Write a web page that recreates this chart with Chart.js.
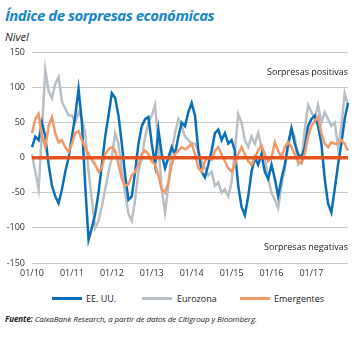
<!DOCTYPE html>
<html>
<head>
<meta charset="utf-8">
<script src="https://cdn.jsdelivr.net/npm/chart.js@4.4.0/dist/chart.umd.min.js"></script>
<style>
  body { margin: 0; background: #fff; font-family: "Open Sans", sans-serif; }
  #wrap { position: relative; width: 362px; height: 338px; overflow: hidden; }
  #titulo { position: absolute; left: 5px; top: 5px; font-size: 15px; font-weight: 700; font-style: italic; color: #1a86c8; letter-spacing: -0.5px; }
  #nivel { position: absolute; left: 5px; top: 29px; font-size: 11px; font-style: italic; color: #222; }
  #grafico { position: absolute; left: 0; top: 40px; }
  #leyenda { position: absolute; top: 292px; left: 0; width: 362px; font-size: 9px; color: #222; }
  #leyenda span { position: absolute; top: 0; }
  #leyenda i { position: absolute; top: 5px; height: 3px; width: 30px; }
  #fuente { position: absolute; left: 5px; top: 313px; font-size: 8px; font-style: italic; color: #222; letter-spacing: -0.1px; }
</style>
</head>
<body>
<div id="wrap">
  <div id="titulo">Índice de sorpresas económicas</div>
  <div id="nivel">Nivel</div>
  <canvas id="grafico" width="362" height="245"></canvas>
  <div id="leyenda">
    <i style="left:52px;background:#0a6fb8"></i><span style="left:86px">EE. UU.</span>
    <i style="left:142px;background:#b8bfc5"></i><span style="left:177px">Eurozona</span>
    <i style="left:240px;background:#f2996a"></i><span style="left:274px">Emergentes</span>
  </div>
  <div id="fuente"><b>Fuente:</b> CaixaBank Research, a partir de datos de Citigroup y Bloomberg.</div>
</div>
<script>
// meses de 01/10 a 12/17
const anios = ['10', '11', '12', '13', '14', '15', '16', '17'];
const meses = ['01', '02', '03', '04', '05', '06', '07', '08', '09', '10', '11', '12'];
const etiquetas = [];
anios.forEach(a => meses.forEach(m => etiquetas.push(m + '/' + a)));

const eeuu = [
  15, 30, 25, 50, 30, -10, -40, -55, -65, -45, -20, 0,
  30, 60, 98, 50, -40, -117, -100, -80, -50, -10, 30, 60,
  92, 85, 60, 20, -25, -60, -55, -20, 20, 45, 55, 58,
  20, -10, 40, 5, -15, 0, 15, 5, 30, 50, 45, 65,
  78, 60, 10, -20, -28, -10, 10, 35, 40, 25, 35, 20,
  25, 10, -40, -70, -82, -55, -20, 0, -10, 5, -20, -30,
  -10, -30, -55, -30, -10, 20, 42, 20, 5, 0, 15, 45,
  55, 60, 45, 20, -30, -65, -78, -45, -10, 20, 55, 78
];
const eurozona = [
  5, -20, -45, 40, 125, 95, 85, 105, 115, 80, 70, 60,
  60, 50, 65, 55, 35, -20, -60, -100, -90, -70, -45, -20,
  0, 35, 20, -20, -50, -80, -90, -60, -20, 0, 30, 50,
  60, 75, 20, -45, -78, -40, 10, 35, 55, 45, 30, 25,
  20, 20, 10, -5, -15, -25, -20, -40, -35, -50, -45, -55,
  -35, 10, 62, 50, 25, 15, 30, 20, 35, 15, 0, -30,
  -50, -60, -72, -40, -15, 15, 40, 30, -10, -5, 40, 75,
  65, 55, 75, 50, 65, 55, 45, 50, 15, 45, 92, 75
];
const emergentes = [
  35, 55, 62, 30, 15, 45, 58, 35, 22, 25, 15, 8,
  20, 35, 38, 25, 15, 5, -3, -10, -20, -15, 5, 12,
  15, 10, -10, -30, -40, -38, -25, -20, -10, 5, 10, 5,
  -5, -10, -25, -45, -50, -35, -10, 5, 10, 15, 12, 15,
  20, 5, -15, -20, -5, 0, -3, 10, 15, 5, -5, -15,
  -20, -10, 5, 15, 5, -5, -10, 0, 10, 17, 5, -5,
  0, 22, 10, 0, 15, 22, 15, 5, -5, -8, 5, 30,
  45, 52, 58, 35, 20, 15, 22, 20, 20, 25, 20, 10
];
const yTicks = [-150, -100, -50, 0, 50, 100, 150];

const fuente = '"Open Sans", sans-serif';

// línea de cero y rótulos dentro del área
const extras = {
  id: 'extras',
  afterDatasetsDraw(chart) {
    const { ctx, chartArea, scales } = chart;
    const y0 = scales.y.getPixelForValue(0);
    ctx.save();
    ctx.strokeStyle = '#e2531f';
    ctx.lineWidth = 3.5;
    ctx.beginPath();
    ctx.moveTo(chartArea.left, y0);
    ctx.lineTo(chartArea.right, y0);
    ctx.stroke();
    ctx.fillStyle = '#222';
    ctx.font = '9px ' + fuente;
    ctx.textAlign = 'right';
    ctx.textBaseline = 'middle';
    ctx.fillText('Sorpresas positivas', chartArea.right, chartArea.top + 20);
    ctx.fillText('Sorpresas negativas', chartArea.right, chartArea.bottom - 16);
    ctx.restore();
  }
};

const serie = (label, data, color, order) => ({
  label, data, order,
  borderColor: color,
  borderWidth: 2.5,
  pointRadius: 0,
  tension: 0,
  fill: false
});

new Chart(document.getElementById('grafico'), {
  type: 'line',
  data: {
    labels: etiquetas,
    datasets: [
      serie('Emergentes', emergentes, '#f2996a', 1),
      serie('EE. UU.', eeuu, '#0a6fb8', 2),
      serie('Eurozona', eurozona, '#b8bfc5', 3)
    ]
  },
  options: {
    responsive: false,
    animation: false,
    layout: { padding: { top: 12, right: 14, left: 0, bottom: 0 } },
    plugins: { legend: { display: false }, tooltip: { enabled: false } },
    scales: {
      x: {
        grid: { display: false, drawTicks: false },
        border: { display: false },
        afterFit: s => { s.height = 22; },
        ticks: {
          autoSkip: false,
          maxRotation: 0,
          padding: 5,
          color: '#333',
          font: { family: fuente, size: 9 },
          callback: (v, i) => etiquetas[i].startsWith('01/') ? etiquetas[i] : ''
        }
      },
      y: {
        min: -150,
        max: 150,
        afterFit: s => { s.width = 32; },
        afterBuildTicks: s => { s.ticks = yTicks.map(v => ({ value: v })); },
        grid: { color: '#c9c9c9', lineWidth: 1, drawTicks: false },
        border: { display: false },
        ticks: {
          padding: 7,
          color: '#333',
          font: { family: fuente, size: 9 }
        }
      }
    }
  },
  plugins: [extras]
});
</script>
</body>
</html>
